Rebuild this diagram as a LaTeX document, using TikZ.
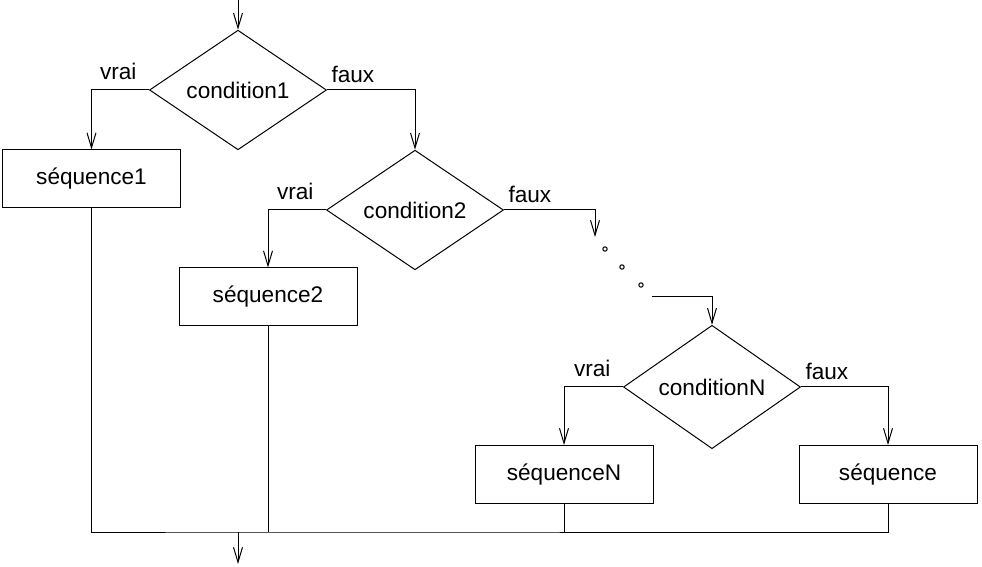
\documentclass[tikz,border=0pt]{standalone}
\usepackage{fontspec}
\setmainfont{Liberation Sans}
\usepackage{tikz}
\usetikzlibrary{arrows.meta}
\usetikzlibrary{shapes,decorations}

\begin{document}
\begin{tikzpicture}[x=0.5pt,y=-0.5pt,line width=0.5pt,
	>={Straight Barb[length=7.5pt,width=4.5pt]},
	font=\fontsize{11.3}{13}\selectfont,
	cond node/.style = {diamond,draw,inner sep = 0pt, minimum width = 88.5pt, minimum height = 58pt},
	seq node/.style = {rectangle,draw, minimum width = 89pt, minimum height = 29pt},
	dot node/.style = {circle,draw, inner sep = 0pt, minimum size = 2.2pt},
	vrai label/.style = {pos=0,anchor=south east,inner sep=1pt,xshift=-5pt,yshift=4pt},
	faux label/.style = {pos=0,anchor=south west,inner sep=1pt,xshift=1pt,yshift=2.5pt}]
	\useasboundingbox (0,0) rectangle (982,567);
	\coordinate (in) at (238,0);
	\node[cond node] at (238,90) (c1) {condition1};
	\node[seq node] at (91.5,179) (s1) {séquence1};
	\node[cond node] at (415,210) (c2) {condition2};
	\node[seq node] at (268,297) (s2) {séquence2};
	\coordinate (d1) at (595,237);
	\node[dot node] at (605,249) (p1) {};
	\node[dot node] at (622,267) (p2) {};
	\node[dot node] at (641,285) (p3) {};
	\coordinate (d2) at (652,297);
	\node[cond node] at (712,387) (cN) {conditionN};
	\node[seq node] at (564,474.5) (sN) {séquenceN};
	\node[seq node] at (888,474.5) (s) {séquence};
	\coordinate (j) at (238,532);
	\coordinate (out) at (238,564);
	% branches
	\draw[->] (in)--(c1);
	\draw[->] (c1.west) -| node[vrai label] (v1) {vrai} (s1);
	\draw[->] (c1.east) -| node[faux label] (f1) {faux} (c2);
	\draw[->] (c2.west) -| node[vrai label] (v2) {vrai} (s2);
	\draw[->] (c2.east) -| node[faux label] (f2) {faux} (d1);
	\draw[->] (d2) -| (cN);
	\draw[->] (cN.west) -| node[vrai label] (vN) {vrai} (sN);
	\draw[->] (cN.east) -| node[faux label] (fN) {faux} (s);
	% jonction
	\draw (s1.south) |- (j) -| (s.south);
	\draw (s2.south) -- (s2.south |- j);
	\draw (sN.south) -- (sN.south |- j);
	\draw[->] (j)--(out);
	\end{tikzpicture}
\end{document}
